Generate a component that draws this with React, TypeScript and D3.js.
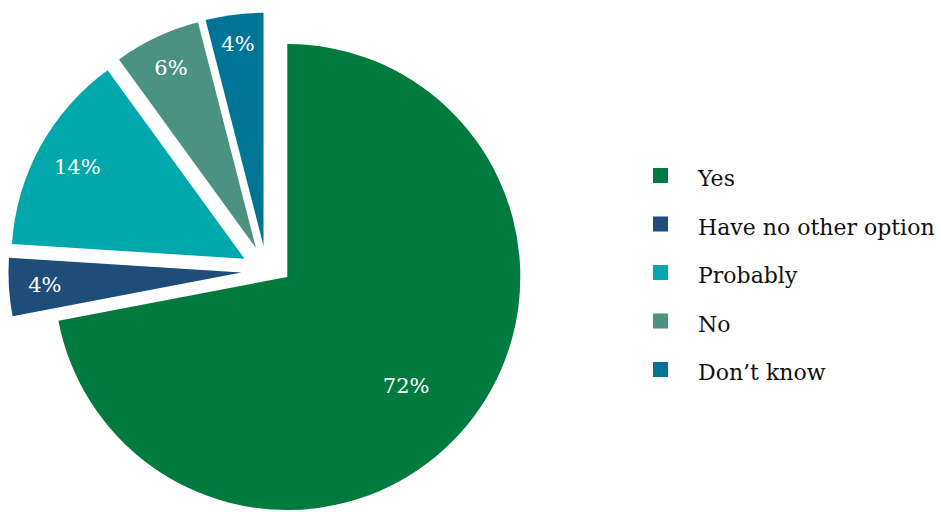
import React from "react";
import * as d3 from "d3";

const categories = ["Yes", "Have no other option", "Probably", "No", "Don't know"];
const legendLabels = ["Yes", "Have no other option", "Probably", "No", "Don\u2019t know"];
const values = [72, 4, 14, 6, 4];
const colors = ["#007A3E", "#1E4D78", "#00A8AB", "#4B9282", "#007494"];

const W = 941;
const H = 512;
const R = 233;
const CX = 287.3;
const CY = 277;
// small slices are pulled out as a cluster
const clusterShift = [-20.6, -6.1];
const explode = 25.3;

export default function App() {
  const pie = d3.pie<number>().sort(null).value((d) => d).startAngle(0).endAngle(2 * Math.PI);
  const arcs = pie(values);
  const arcGen = d3.arc<d3.PieArcDatum<number>>().innerRadius(0).outerRadius(R);
  const total = d3.sum(values);
  const fmt = (v: number) => `${Math.round((v / total) * 100)}%`;
  const labelFont = 21;
  const legendFont = 22;

  return (
    <svg
      width={W}
      height={H}
      style={{ position: "absolute", left: 0, top: 0, background: "#fff" }}
      fontFamily="'DejaVu Serif', serif"
    >
      <g transform={`translate(${CX},${CY})`}>
        {arcs.map((a, i) => {
          const mid = (a.startAngle + a.endAngle) / 2;
          const ux = Math.sin(mid);
          const uy = -Math.cos(mid);
          const big = i === 0;
          const ox = big ? 0 : clusterShift[0] + explode * ux;
          const oy = big ? 0 : clusterShift[1] + explode * uy;
          const txt = fmt(values[i]);
          let lx: number;
          let ly: number;
          if (big) {
            const lr = R * 0.777;
            lx = clusterShift[0] + lr * ux;
            ly = clusterShift[1] + lr * uy;
          } else {
            const hw = txt.length === 2 ? 15.5 : 21;
            const hh = 7.7;
            const proj = hw * Math.abs(ux) + hh * Math.abs(uy);
            const lr = R - 20 - proj;
            lx = lr * ux;
            ly = lr * uy;
          }
          return (
            <g key={categories[i]} transform={`translate(${ox},${oy})`}>
              <path d={arcGen(a) || ""} fill={colors[i]} />
              <text
                x={lx}
                y={ly}
                textAnchor="middle"
                dominantBaseline="central"
                fill="#fff"
                fontSize={labelFont}
              >
                {txt}
              </text>
            </g>
          );
        })}
      </g>
      <g>
        {legendLabels.map((l, i) => {
          const base = 186 + i * 48.5;
          return (
            <g key={l}>
              <rect x={653} y={base - 18} width={15} height={15} fill={colors[i]} />
              <text x={698} y={base} fontSize={legendFont} fill="#111">
                {l}
              </text>
            </g>
          );
        })}
      </g>
    </svg>
  );
}
